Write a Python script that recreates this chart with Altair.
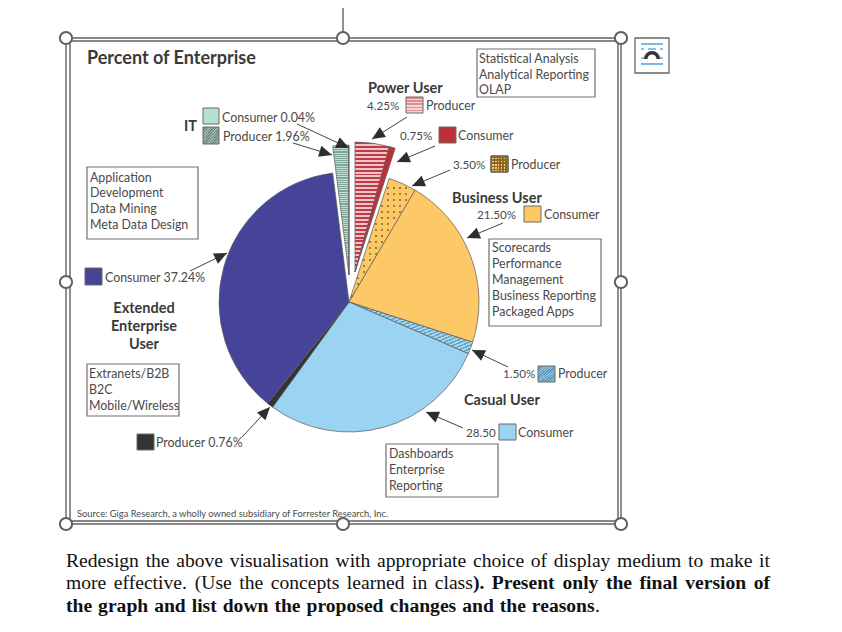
import math
import altair as alt
import pandas as pd

# ---- values ----
segments = ["Power Producer", "Power Consumer", "Business Producer", "Business Consumer",
            "Casual Producer", "Casual Consumer", "Extended Producer", "Extended Consumer",
            "IT Producer", "IT Consumer"]
percent = [4.25, 0.75, 3.50, 21.50, 1.50, 28.50, 0.76, 37.24, 1.96, 0.04]

title_text = "Percent of Enterprise"
source_text = "Source: Giga Research, a wholly owned subsidiary of Forrester Research, Inc."
notes_bi = ["Statistical Analysis", "Analytical Reporting", "OLAP"]
notes_app = ["Application", "Development", "Data Mining", "Meta Data Design"]
notes_score = ["Scorecards", "Performance", "Management", "Business Reporting", "Packaged Apps"]
notes_ext = ["Extranets/B2B", "B2C", "Mobile/Wireless"]
notes_dash = ["Dashboards", "Enterprise", "Reporting"]
para_1 = "Redesign the above visualisation with appropriate choice of display medium to make it"
para_2a = "more effective. (Use the concepts learned in class"
para_2b = "). Present only the final version of"
para_3a = "the graph and list down the proposed changes and the reasons"
para_3b = "."

# ---- layout (page pixels) ----
X = alt.Scale(domain=[8, 834], range=[0, 826])
Y = alt.Scale(domain=[8, 624], range=[0, 616])
CX, CY, R = 349, 302, 130
GREY = "#5f5f5f"
INK = "#4a4a4a"
BOLD = "#3a3a3a"
SANS = "Lato"
SERIF = "Liberation Serif"
PARA = 19.6

# Times advance widths, used to justify the paragraph word by word
REG = dict(zip("abcdefghijklmnopqrstuvwxyz", [444, 500, 444, 500, 444, 333, 500, 500, 278, 278, 500, 278, 778,
                                              500, 500, 500, 500, 333, 389, 278, 500, 500, 722, 500, 500, 444]))
BLD = dict(zip("abcdefghijklmnopqrstuvwxyz", [500, 556, 444, 556, 444, 333, 500, 556, 278, 333, 556, 278, 833,
                                              556, 500, 556, 556, 444, 389, 333, 556, 500, 722, 500, 500, 444]))
REG.update({"R": 667, "U": 722, ".": 250, "(": 333, ")": 333})
BLD.update({"P": 611, ".": 250, "(": 333, ")": 333})


def word_w(word, bold):
    table = BLD if bold else REG
    return sum(table[c] for c in word) * PARA / 1000


def justify(tokens, x0, x1, baseline):
    total = sum(word_w(w, b) for w, b in tokens)
    glued = sum(1 for w, _ in tokens if w.startswith(")"))
    gap = (x1 - x0 - total) / (len(tokens) - 1 - glued)
    reg, bld, x = [], [], x0
    for w, b in tokens:
        if w.startswith(")"):
            x -= gap
        (bld if b else reg).append((w, x, baseline))
        x += word_w(w, b) + gap
    return reg, bld


def stripes(c1, c2, n, vertical=False, diag=False):
    stops = []
    for i in range(n):
        a, b = i / n, (i + 0.5) / n
        c = (i + 1) / n
        stops += [alt.GradientStop(offset=a, color=c1), alt.GradientStop(offset=b, color=c1),
                  alt.GradientStop(offset=b, color=c2), alt.GradientStop(offset=c, color=c2)]
    if diag:
        return alt.LinearGradient(gradient="linear", stops=stops, x1=0, y1=0, x2=1, y2=1)
    if vertical:
        return alt.LinearGradient(gradient="linear", stops=stops, x1=0, y1=0, x2=1, y2=0)
    return alt.LinearGradient(gradient="linear", stops=stops, x1=0, y1=0, x2=0, y2=1)


RED = "#bd3038"
ORANGE = "#fdc966"
NAVY = "#464498"
SKY = "#9bd3f3"
DARK = "#333333"
MINT = "#b5e0cf"
fills = [stripes("#c03a48", "#f0c4c8", 33), RED, ORANGE, ORANGE,
         stripes("#6ea6c8", "#a8d8ee", 30, diag=True), SKY, DARK, NAVY,
         stripes("#7fa597", "#bfe0d2", 60), MINT]
offsets = [(6, -30), (6, -30), (0, 0), (0, 0), (0, 0), (0, 0), (0, 0), (0, 0), (0, -27), (0, -27)]


def xy():
    return dict(x=alt.X("x:Q", scale=X, axis=None), y=alt.Y("y:Q", scale=Y, axis=None))


def box(x, y, x2, y2, **mark):
    d = pd.DataFrame([dict(x=x, y=y, x2=x2, y2=y2)])
    return alt.Chart(d).mark_rect(**mark).encode(x2=alt.X2("x2:Q"), y2=alt.Y2("y2:Q"), **xy())


def rules(rows, color=GREY, width=1.3):
    d = pd.DataFrame(rows, columns=["x", "y", "x2", "y2"])
    return alt.Chart(d).mark_rule(color=color, strokeWidth=width).encode(
        x2=alt.X2("x2:Q"), y2=alt.Y2("y2:Q"), **xy())


def texts(rows, size=12.4, weight="normal", font=SANS, color=INK, align="left"):
    d = pd.DataFrame(rows, columns=["t", "x", "y"])
    return alt.Chart(d).mark_text(fontSize=size, fontWeight=weight, font=font, color=color,
                                  align=align, baseline="alphabetic").encode(
        text="t:N", **xy())


def note(lines, x, baselines):
    return texts([(t, x, b) for t, b in zip(lines, baselines)])


layers = []

# selection frame
layers.append(rules([(66, 38, 621, 38), (66, 41, 621, 41), (66, 521, 621, 521), (66, 524, 621, 524),
                     (66, 38, 66, 524), (70, 38, 70, 524), (618, 38, 618, 524), (621, 38, 621, 524),
                     (343, 8, 343, 38)], color="#606060", width=1.4))

# pie wedges
cum = 0.0
wedge_rows = []
for name, p, (dx, dy) in zip(segments, percent, offsets):
    wedge_rows.append(dict(name=name, start=cum, end=cum + p, x=CX + dx, y=CY + dy))
    cum += p
theta_scale = alt.Scale(domain=[0, 100], range=[0, 2 * math.pi])
for row, fill in zip(wedge_rows, fills):
    layers.append(alt.Chart(pd.DataFrame([row])).mark_arc(
        radius=R, fill=fill, stroke="#5a5a5a", strokeWidth=0.7).encode(
        theta=alt.Theta("start:Q", scale=theta_scale), theta2=alt.Theta2("end:Q"), **xy()))

# dotted texture on the Business Producer wedge
b = wedge_rows[2]
a0, a1 = b["start"] * 3.6, b["end"] * 3.6
dots = []
for gx in range(340, 420, 6):
    for gy in range(170, 302, 6):
        dx, dy = gx - CX, gy - CY
        r = math.hypot(dx, dy)
        ang = math.degrees(math.atan2(dx, -dy)) % 360
        if r < R - 2 and a0 + 0.8 < ang < a1 - 0.8:
            dots.append(dict(x=gx, y=gy))
layers.append(alt.Chart(pd.DataFrame(dots)).mark_point(shape="square", filled=True, opacity=1,
                                                       size=3, color="#6b5320").encode(**xy()))

# arrows
arrows = [(297, 124, 349, 148), (293, 143, 332, 155), (407, 117, 372, 139), (435, 146, 397, 162),
          (450, 170, 412, 186), (503, 223, 467, 238), (508, 367, 472, 350), (463, 428, 426, 412),
          (190, 271, 227, 253), (242, 437, 270, 407)]
layers.append(rules(arrows, color="#444444", width=1))
heads = pd.DataFrame([dict(x=x2, y=y2, a=math.degrees(math.atan2(x2 - x1, y1 - y2)) % 360)
                      for x1, y1, x2, y2 in arrows])
layers.append(alt.Chart(heads).mark_point(shape="M0,0L-0.95,2.1L0.95,2.1Z", filled=True, opacity=1,
                                          size=150, color="#2e2e2e").encode(
    angle=alt.Angle("a:Q", scale=None), **xy()))

# legend swatches
sw = dict(stroke="#6a6a6a", strokeWidth=1)
layers += [
    box(203, 108, 219, 124, fill=MINT, **sw),
    box(203, 127, 219, 144, fill=stripes("#6f8a80", "#9db5aa", 12, diag=True), **sw),
    box(406, 97, 423, 113, fill=stripes("#e58b93", "#f5d5d8", 5), **sw),
    box(439, 127, 456, 143, fill=RED, **sw),
    box(491, 156, 508, 172, fill=ORANGE, **sw),
    box(491, 156, 508, 172, fill=stripes("#8a6a25", "rgba(0,0,0,0)", 5), **sw),
    box(491, 156, 508, 172, fill=stripes("#8a6a25", "rgba(0,0,0,0)", 6, vertical=True), **sw),
    box(524, 206, 541, 222, fill=ORANGE, **sw),
    box(538, 366, 555, 382, fill=stripes("#5f95b8", "#8fc0dc", 12, diag=True), **sw),
    box(499, 424, 516, 440, fill=SKY, **sw),
    box(85, 268, 102, 285, fill=NAVY, **sw),
    box(137, 434, 154, 450, fill=DARK, **sw),
]

# note boxes
nb = dict(fill="white", stroke="#6e6e6e", strokeWidth=1.2)
layers += [box(477, 49, 595, 97, **nb), box(87, 167, 198, 239, **nb), box(489, 239, 601, 326, **nb),
           box(87, 364, 179, 416, **nb), box(386, 444, 498, 497, **nb)]
layers += [note(notes_bi, 479, [63, 79, 94]), note(notes_app, 90, [182, 197, 213, 229]),
           note(notes_score, 492, [252, 268, 284, 300, 316]), note(notes_ext, 89, [378, 394, 410]),
           note(notes_dash, 389, [458, 474, 490])]

# labels
layers.append(texts([("Producer", 426, 110), ("Consumer", 458, 140), ("Producer", 511, 169), ("Consumer", 544, 219),
                     ("Producer", 558, 378), ("Consumer", 518, 437),
                     ("Consumer 37.24%", 105, 282), ("Producer 0.76%", 156, 447),
                     ("Consumer 0.04%", 222, 122), ("Producer 1.96%", 223, 141)]))
layers.append(texts([("4.25%", 367, 110), ("0.75%", 400, 140), ("3.50%", 453, 169), ("21.50%", 477, 219),
                     ("1.50%", 503, 378), ("28.50", 466, 437)], size=11.6))
layers.append(texts([(title_text, 87, 64)], size=18, weight="bold", color=BOLD))
layers.append(texts([("Power User", 368, 93), ("Business User", 452, 203), ("Casual User", 464, 405),
                     ("IT", 184, 131)], size=14.5, weight="bold", color=BOLD))
layers.append(texts([("Extended", 144, 313), ("Enterprise", 144, 331), ("User", 144, 349)],
                    size=14.5, weight="bold", color=BOLD, align="center"))
layers.append(texts([(source_text, 77, 517)], size=9.35))

# paragraph below the picture
para_lines = [
    ([(w, False) for w in para_1.split()], 66, 770, 567),
    ([(w, False) for w in para_2a.split()] + [(w, True) for w in para_2b.split()], 66, 770, 589),
    ([(w, True) for w in para_3a.split()], 66, 595, 612),
]
reg_words, bold_words = [], []
for tokens, x0, x1, base in para_lines:
    r_, b_ = justify(tokens, x0, x1, base)
    reg_words += r_
    bold_words += b_
reg_words.append((para_3b, 595, 612))
layers.append(texts(reg_words, size=PARA, font=SERIF, color="#111111"))
layers.append(texts(bold_words, size=PARA, font=SERIF, weight="bold", color="#111111"))

# selection handles
handles = pd.DataFrame([dict(x=a, y=b) for a, b in
                        [(66, 38), (343, 38), (621, 38), (66, 282), (621, 282), (66, 524), (343, 524), (621, 524)]])
layers.append(alt.Chart(handles).mark_point(shape="circle", filled=True, size=150, fill="white", opacity=1,
                                            stroke="#606060", strokeWidth=2).encode(**xy()))

# layout-options icon
layers.append(box(635, 38, 669, 73, fill="white", stroke="#666666", strokeWidth=1.3))
layers.append(rules([(641, 44, 663, 44), (641, 64, 663, 64)], color="#5aa9dc", width=1.6))
layers.append(rules([(641, 49, 644, 49), (648, 49, 656, 49), (660, 49, 663, 49),
                     (641, 58, 644, 58), (660, 58, 663, 58)], color="#5aa9dc", width=1.4))
layers.append(alt.Chart(pd.DataFrame([dict(x=652, y=59, s=75, e=125)])).mark_arc(
    innerRadius=4.5, outerRadius=8, color="#333333").encode(
    theta=alt.Theta("s:Q", scale=theta_scale), theta2=alt.Theta2("e:Q"), **xy()))

chart = alt.layer(*layers).properties(width=826, height=616, padding=0,
                                      autosize=alt.AutoSizeParams(type="none")).configure_view(strokeWidth=0)
chart.save("out.html", embed_options={"renderer": "svg", "actions": False})
